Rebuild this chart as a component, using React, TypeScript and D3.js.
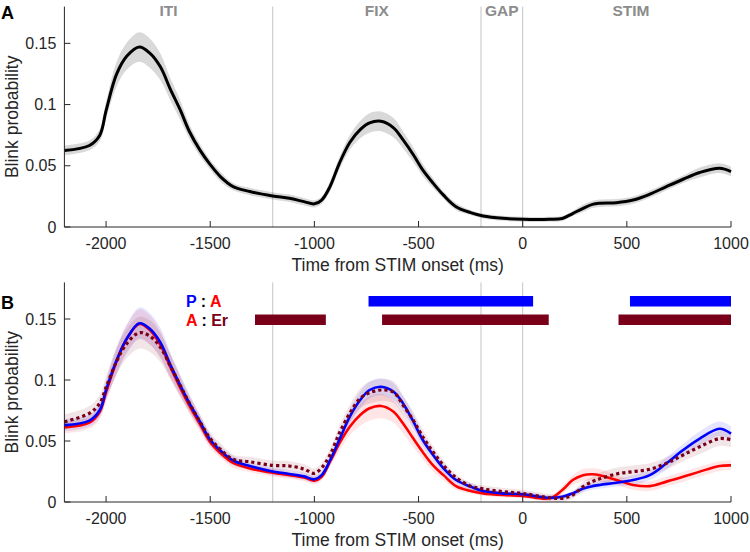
import React from "react";
import * as d3 from "d3";

// ---------- DATA ----------
const times = [
  -2200, -2080, -2030, -2000, -1950, -1900, -1840, -1790, -1740, -1690, -1645, -1600, -1550,
  -1500, -1450, -1390, -1310, -1200, -1120, -1050, -1000, -965, -925, -880, -830, -780, -735,
  -680, -620, -575, -525, -480, -430, -380, -320, -250, -190, -95, 0, 130, 190, 240, 290, 335,
  370, 450, 530, 610, 690, 770, 850, 945, 1000,
];

const allMean = [
  0.0625, 0.0666, 0.075, 0.095, 0.1246, 0.1396, 0.147, 0.142, 0.131, 0.112, 0.096, 0.078, 0.063,
  0.051, 0.041, 0.033, 0.029, 0.0254, 0.0235, 0.0207, 0.0189, 0.022, 0.033, 0.052, 0.069, 0.0795,
  0.085, 0.0863, 0.081, 0.0713, 0.059, 0.0467, 0.0358, 0.026, 0.0166, 0.0117, 0.009, 0.0071, 0.0063,
  0.0063, 0.007, 0.011, 0.0153, 0.0185, 0.0194, 0.0199, 0.022, 0.0268, 0.033, 0.039, 0.0445, 0.048,
  0.0453,
];
const allSe = [
  0.004, 0.004, 0.005, 0.007, 0.01, 0.011, 0.012, 0.012, 0.011, 0.009, 0.008, 0.006, 0.005, 0.004,
  0.004, 0.003, 0.003, 0.003, 0.003, 0.003, 0.003, 0.003, 0.004, 0.005, 0.006, 0.007, 0.008, 0.008,
  0.008, 0.007, 0.006, 0.005, 0.004, 0.003, 0.003, 0.002, 0.002, 0.002, 0.002, 0.002, 0.002, 0.002,
  0.003, 0.003, 0.003, 0.003, 0.003, 0.003, 0.003, 0.003, 0.004, 0.004, 0.004,
];

const pMean = [
  0.063, 0.0667, 0.0754, 0.0918, 0.116, 0.134, 0.1465, 0.142, 0.131, 0.112, 0.096, 0.081, 0.066,
  0.051, 0.042, 0.034, 0.0295, 0.025, 0.023, 0.021, 0.0186, 0.022, 0.034, 0.051, 0.07, 0.0836,
  0.0918, 0.0945, 0.0904, 0.081, 0.066, 0.051, 0.0385, 0.0276, 0.018, 0.0126, 0.009, 0.0071, 0.0063,
  0.0035, 0.0043, 0.0071, 0.011, 0.013, 0.014, 0.0158, 0.018, 0.022, 0.0317, 0.0426, 0.052, 0.06,
  0.056,
];
const pSe = [
  0.005, 0.005, 0.006, 0.008, 0.011, 0.012, 0.013, 0.013, 0.012, 0.01, 0.008, 0.007, 0.006, 0.005,
  0.004, 0.004, 0.003, 0.003, 0.003, 0.003, 0.003, 0.003, 0.004, 0.005, 0.006, 0.007, 0.007, 0.007,
  0.007, 0.006, 0.006, 0.005, 0.004, 0.004, 0.003, 0.003, 0.002, 0.002, 0.002, 0.002, 0.002, 0.002,
  0.003, 0.003, 0.003, 0.003, 0.004, 0.004, 0.005, 0.005, 0.006, 0.006, 0.006,
];

const aMean = [
  0.0612, 0.065, 0.074, 0.09, 0.115, 0.134, 0.146, 0.141, 0.129, 0.11, 0.094, 0.079, 0.064, 0.049,
  0.04, 0.032, 0.0275, 0.024, 0.022, 0.02, 0.0175, 0.0207, 0.033, 0.048, 0.0617, 0.0713, 0.0768,
  0.0787, 0.074, 0.0645, 0.052, 0.041, 0.03, 0.022, 0.013, 0.009, 0.0071, 0.0057, 0.005, 0.003,
  0.0098, 0.018, 0.022, 0.0227, 0.022, 0.018, 0.014, 0.013, 0.0167, 0.0207, 0.0249, 0.0295, 0.03,
];
const aSe = [
  0.005, 0.005, 0.006, 0.008, 0.01, 0.011, 0.012, 0.012, 0.011, 0.01, 0.008, 0.007, 0.006, 0.005,
  0.004, 0.004, 0.003, 0.003, 0.003, 0.003, 0.003, 0.003, 0.004, 0.006, 0.007, 0.009, 0.01, 0.01,
  0.009, 0.008, 0.007, 0.006, 0.005, 0.004, 0.003, 0.002, 0.002, 0.002, 0.002, 0.002, 0.003, 0.004,
  0.005, 0.005, 0.005, 0.004, 0.004, 0.004, 0.004, 0.004, 0.004, 0.004, 0.004,
];

const erMean = [
  0.0658, 0.0727, 0.081, 0.094, 0.115, 0.13, 0.1388, 0.136, 0.127, 0.111, 0.096, 0.081, 0.066,
  0.052, 0.043, 0.035, 0.033, 0.03, 0.0295, 0.027, 0.0235, 0.028, 0.0385, 0.0565, 0.0727, 0.085,
  0.0896, 0.0918, 0.09, 0.0795, 0.067, 0.0535, 0.041, 0.03, 0.02, 0.013, 0.0107, 0.0085, 0.007,
  0.0035, 0.003, 0.0057, 0.0126, 0.0167, 0.019, 0.023, 0.0249, 0.0268, 0.0317, 0.0385, 0.0453,
  0.052, 0.051,
];
const erSe = [
  0.006, 0.006, 0.007, 0.009, 0.011, 0.012, 0.013, 0.013, 0.012, 0.01, 0.009, 0.007, 0.006, 0.005,
  0.005, 0.004, 0.004, 0.004, 0.004, 0.004, 0.004, 0.004, 0.005, 0.006, 0.007, 0.008, 0.009, 0.009,
  0.009, 0.008, 0.007, 0.006, 0.005, 0.004, 0.003, 0.003, 0.003, 0.003, 0.003, 0.003, 0.003, 0.003,
  0.004, 0.004, 0.005, 0.005, 0.005, 0.005, 0.005, 0.005, 0.006, 0.006, 0.006,
];

const epochBounds = [-1200, -200, 0];
const epochLabels = ["ITI", "FIX", "GAP", "STIM"];
const epochLabelTimes = [-1700, -700, -100, 520];

const sigPvsA = [
  [-740, 50],
  [515, 1000],
];
const sigAvsEr = [
  [-1285, -945],
  [-675, 125],
  [460, 1000],
];

const xTicks = [-2000, -1500, -1000, -500, 0, 500, 1000];
const yTicks = [0, 0.05, 0.1, 0.15];
const yTickLabels = ["0", "0.05", "0.1", "0.15"];

// ---------- STYLE ----------
const FONT = "'Liberation Sans', Arial, Helvetica, sans-serif";
const AX = "#262626";
const BLUE = "#0000ff";
const RED = "#ff0000";
const DARKRED = "#7a0019";

const W = 750;
const H = 552;
const X0 = 64.4;
const X1 = 731;

const x = d3.scaleLinear().domain([-2200, 1000]).range([X0, X1]);

type PanelProps = { top: number; bottom: number; children?: React.ReactNode; letter: string; letterY: number };

function Panel({ top, bottom, children, letter, letterY }: PanelProps) {
  const y = d3.scaleLinear().domain([0, 0.18]).range([bottom, top]);
  return (
    <g>
      {children}
      <line x1={X0} x2={X0} y1={top} y2={bottom} stroke={AX} strokeWidth={1} />
      <line x1={X0} x2={X1} y1={bottom} y2={bottom} stroke={AX} strokeWidth={1} />
      {xTicks.map((t) => (
        <g key={t}>
          <line x1={x(t)} x2={x(t)} y1={bottom} y2={bottom - 6} stroke={AX} />
          <text x={x(t)} y={bottom + 21.5} textAnchor="middle" fontSize={16} fill={AX} fontFamily={FONT}>
            {t}
          </text>
        </g>
      ))}
      {yTicks.map((v, i) => (
        <g key={v}>
          <line x1={X0} x2={X0 + 6} y1={y(v)} y2={y(v)} stroke={AX} />
          <text x={X0 - 8} y={y(v) + 5.5} textAnchor="end" fontSize={16} fill={AX} fontFamily={FONT}>
            {yTickLabels[i]}
          </text>
        </g>
      ))}
      <text
        x={(X0 + X1) / 2}
        y={bottom + 43.5}
        textAnchor="middle"
        fontSize={17.5}
        fill={AX}
        fontFamily={FONT}
      >
        Time from STIM onset (ms)
      </text>
      <text
        transform={`translate(18,${(top + bottom) / 2}) rotate(-90)`}
        textAnchor="middle"
        fontSize={17.5}
        fill={AX}
        fontFamily={FONT}
      >
        Blink probability
      </text>
      <text x={1} y={letterY} fontSize={18} fontWeight="bold" fill="#000" fontFamily={FONT}>
        {letter}
      </text>
    </g>
  );
}

function series(mean: number[], se: number[], y: d3.ScaleLinear<number, number>) {
  const pts = times.map((t, i) => ({ t, m: mean[i], s: se[i] }));
  const curve = d3.curveCatmullRom.alpha(0.5);
  const line = d3
    .line<{ t: number; m: number }>()
    .x((d) => x(d.t))
    .y((d) => y(d.m))
    .curve(curve);
  const area = d3
    .area<{ t: number; m: number; s: number }>()
    .x((d) => x(d.t))
    .y0((d) => y(d.m - d.s))
    .y1((d) => y(d.m + d.s))
    .curve(curve);
  return { line: line(pts) || "", area: area(pts) || "" };
}

export default function App() {
  const topA = 6.6;
  const botA = 227;
  const topB = 282.4;
  const botB = 502;
  const yA = d3.scaleLinear().domain([0, 0.18]).range([botA, topA]);
  const yB = d3.scaleLinear().domain([0, 0.18]).range([botB, topB]);

  const all = series(allMean, allSe, yA);
  const p = series(pMean, pSe, yB);
  const a = series(aMean, aSe, yB);
  const er = series(erMean, erSe, yB);

  return (
    <svg
      width={W}
      height={H}
      style={{ position: "absolute", left: 0, top: 0, background: "#fff" }}
      xmlns="http://www.w3.org/2000/svg"
    >
      <rect width={W} height={H} fill="#fff" />
      <Panel top={topA} bottom={botA} letter="A" letterY={18.5}>
        {epochBounds.map((t) => (
          <line key={t} x1={x(t)} x2={x(t)} y1={topA} y2={botA} stroke="#c4c4c4" strokeWidth={1} />
        ))}
        {epochLabels.map((l, i) => (
          <text
            key={l}
            x={x(epochLabelTimes[i])}
            y={16}
            textAnchor="middle"
            fontSize={15.5}
            fontWeight="bold"
            fill="#8c8c8c"
            fontFamily={FONT}
          >
            {l}
          </text>
        ))}
        <path d={all.area} fill="#000" fillOpacity={0.15} stroke="none" />
        <path d={all.line} fill="none" stroke="#000" strokeWidth={3} />
      </Panel>

      <Panel top={topB} bottom={botB} letter="B" letterY={308.5}>
        {epochBounds.map((t) => (
          <line key={t} x1={x(t)} x2={x(t)} y1={topB} y2={botB} stroke="#c4c4c4" strokeWidth={1} />
        ))}
        <path d={a.area} fill={RED} fillOpacity={0.1} />
        <path d={p.area} fill={BLUE} fillOpacity={0.1} />
        <path d={er.area} fill={DARKRED} fillOpacity={0.1} />
        <path d={a.line} fill="none" stroke={RED} strokeWidth={2.6} />
        <path d={p.line} fill="none" stroke={BLUE} strokeWidth={2.6} />
        <path d={er.line} fill="none" stroke={DARKRED} strokeWidth={3.2} strokeDasharray="3.2 3" />
        {sigPvsA.map(([s, e], i) => (
          <rect key={"p" + i} x={x(s)} y={296} width={x(e) - x(s)} height={10.5} fill={BLUE} />
        ))}
        {sigAvsEr.map(([s, e], i) => (
          <rect key={"a" + i} x={x(s)} y={314.5} width={x(e) - x(s)} height={10.5} fill={DARKRED} />
        ))}
        <text x={186} y={306.5} fontSize={16} fontWeight="bold" fontFamily={FONT}>
          <tspan fill={BLUE}>P</tspan>
          <tspan fill="#000"> : </tspan>
          <tspan fill={RED}>A</tspan>
        </text>
        <text x={186} y={325.5} fontSize={16} fontWeight="bold" fontFamily={FONT}>
          <tspan fill={RED}>A</tspan>
          <tspan fill="#000"> : </tspan>
          <tspan fill={DARKRED}>Er</tspan>
        </text>
      </Panel>
    </svg>
  );
}
